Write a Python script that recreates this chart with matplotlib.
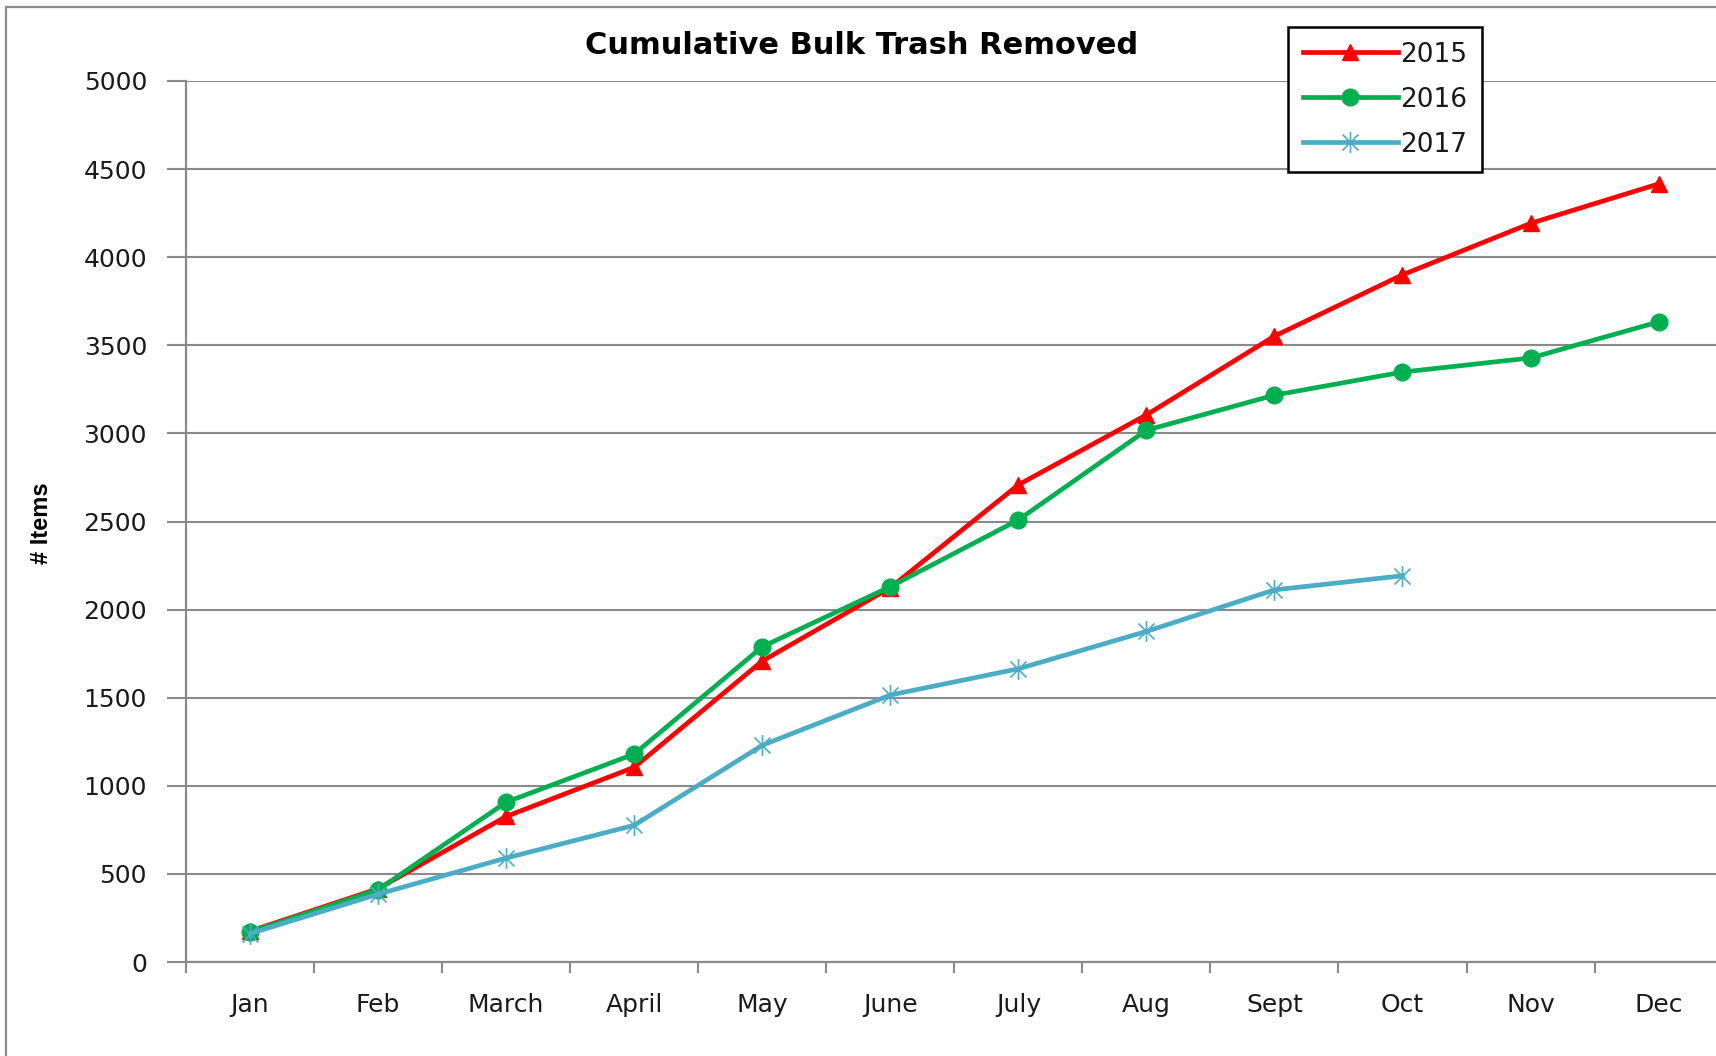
import matplotlib
matplotlib.use("Agg")
import matplotlib.pyplot as plt
from matplotlib.path import Path
from matplotlib.patches import Rectangle
import numpy as np

months = ["Jan", "Feb", "March", "April", "May", "June", "July", "Aug", "Sept", "Oct", "Nov", "Dec"]
y2015 = [175, 416, 826, 1105, 1708, 2124, 2708, 3105, 3552, 3900, 4192, 4416]
y2016 = [170, 410, 907, 1180, 1789, 2130, 2509, 3018, 3217, 3348, 3428, 3633]
y2017 = [161, 385, 590, 776, 1230, 1515, 1664, 1876, 2112, 2192]
yticks = [0, 500, 1000, 1500, 2000, 2500, 3000, 3500, 4000, 4500, 5000]

W, H = 1716, 1056
fig = plt.figure(figsize=(W / 100, H / 100), dpi=100)
fig.patch.set_facecolor("white")

# outer chart border
fig.patches.append(Rectangle((6 / W, -0.1), 1.2, 1.1 - 7 / H, transform=fig.transFigure,
                             fill=False, edgecolor="#8c8c8c", lw=1.6, zorder=0))

ax = fig.add_axes([186 / W, 1 - 962 / H, 1536.6 / W, (962 - 81) / H])

grid_c = "#8a8a8a"
text_c = "#1a1a1a"

star = Path([(-1, -1), (1, 1), (-1, 1), (1, -1), (0, -1.3), (0, 1.3)],
            [Path.MOVETO, Path.LINETO, Path.MOVETO, Path.LINETO, Path.MOVETO, Path.LINETO])

x = np.arange(len(months))
ax.plot(x, y2015, color="#ff0000", lw=3.4, marker="^", ms=12, label="2015", zorder=3)
ax.plot(x, y2016, color="#00b050", lw=3.4, marker="o", ms=12, label="2016", zorder=4)
ax.plot(x[:len(y2017)], y2017, color="#4bacc6", lw=3.4, marker=star, ms=15,
        mew=1.2, label="2017", zorder=5)

ax.set_xlim(-0.5, 11.5)
ax.set_ylim(0, 5000)
ax.set_yticks(yticks)
ax.set_yticklabels([str(v) for v in yticks])
ax.yaxis.grid(True, color=grid_c, lw=1.5)
ax.set_axisbelow(True)

ax.set_xticks(x)
ax.set_xticklabels(months)
ax.set_xticks(np.arange(-0.5, 12.0, 1.0), minor=True)
ax.tick_params(axis="x", which="major", length=0, pad=22, labelsize=18, labelcolor=text_c)
ax.tick_params(axis="x", which="minor", length=8, width=1.5, color=grid_c, direction="out")
ax.tick_params(axis="y", length=14, width=1.5, color=grid_c, pad=14, labelsize=18, labelcolor=text_c)

for s in ["top", "right"]:
    ax.spines[s].set_visible(False)
for s in ["left", "bottom"]:
    ax.spines[s].set_color(grid_c)
    ax.spines[s].set_linewidth(1.6)

fig.text(862 / W, 1 - 46 / H, "Cumulative Bulk Trash Removed", ha="center", va="center",
         fontsize=22, fontweight="bold", color="black")

fig.text(42 / W, 1 - 523 / H, "# Items", rotation=90, ha="center", va="center",
         fontsize=17, fontweight="bold", family=["Liberation Sans Narrow", "Liberation Sans", "DejaVu Sans"],
         color="black")

leg = ax.legend(loc="upper left", bbox_to_anchor=(1288 / W, 1 - 27 / H), bbox_transform=fig.transFigure,
                borderaxespad=0, fontsize=19, handlelength=3.6, handletextpad=0.1, labelspacing=0.72,
                borderpad=0.55, fancybox=False, framealpha=1, edgecolor="black")
leg.get_frame().set_linewidth(1.8)
for t in leg.get_texts():
    t.set_color(text_c)

fig.savefig("out.png", dpi=100, facecolor="white")
